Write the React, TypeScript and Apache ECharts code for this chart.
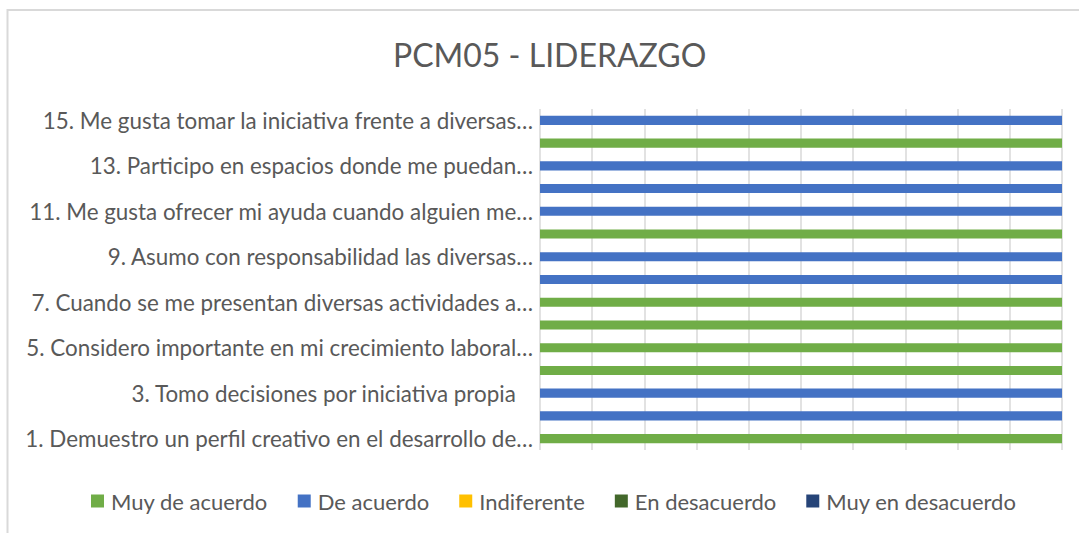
import React, { useEffect, useRef } from "react";
import * as echarts from "echarts";

const categories = [
  "1. Demuestro un perfil creativo en el desarrollo de…",
  "2. …",
  "3. Tomo decisiones por iniciativa propia   ",
  "4. …",
  "5. Considero importante en mi crecimiento laboral…",
  "6. …",
  "7. Cuando se me presentan diversas actividades a…",
  "8. …",
  "9. Asumo con responsabilidad las diversas…",
  "10. …",
  "11. Me gusta ofrecer mi ayuda cuando alguien me…",
  "12. …",
  "13. Participo en espacios donde me puedan…",
  "14. …",
  "15. Me gusta tomar la iniciativa frente a diversas…",
];

const seriesNames = ["Muy de acuerdo", "De acuerdo", "Indiferente", "En desacuerdo", "Muy en desacuerdo"];
const seriesColors = ["#70AD47", "#4472C4", "#FFC000", "#43682B", "#264478"];

const muyDeAcuerdo = [1, 0, 0, 1, 1, 1, 1, 0, 0, 1, 0, 0, 0, 1, 0];
const deAcuerdo = [0, 1, 1, 0, 0, 0, 0, 1, 1, 0, 1, 1, 1, 0, 1];
const indiferente = [0, 0, 0, 0, 0, 0, 0, 0, 0, 0, 0, 0, 0, 0, 0];
const enDesacuerdo = [0, 0, 0, 0, 0, 0, 0, 0, 0, 0, 0, 0, 0, 0, 0];
const muyEnDesacuerdo = [0, 0, 0, 0, 0, 0, 0, 0, 0, 0, 0, 0, 0, 0, 0];

const seriesData = [muyDeAcuerdo, deAcuerdo, indiferente, enDesacuerdo, muyEnDesacuerdo];

const FONT = "Lato";
const TEXT = "#595959";

export default function App() {
  const ref = useRef<HTMLDivElement>(null);
  useEffect(() => {
    if (!ref.current) return;
    const chart = echarts.init(ref.current, undefined, { renderer: "svg" });
    chart.setOption({
      animation: false,
      backgroundColor: "#ffffff",
      textStyle: { fontFamily: FONT },
      title: {
        text: "PCM05 - LIDERAZGO",
        left: 393,
        top: 38,
        padding: 0,
        textStyle: { fontFamily: FONT, fontSize: 32, fontWeight: "normal", color: TEXT },
      },
      graphic: [
        {
          type: "rect",
          shape: { x: 7.5, y: 10, width: 1200, height: 700 },
          style: { fill: "none", stroke: "#d9d9d9", lineWidth: 2 },
          silent: true,
          z: -1,
        },
      ],
      legend: {
        bottom: 16,
        left: 86,
        icon: "rect",
        itemWidth: 13,
        itemHeight: 13,
        itemGap: 30,
        textStyle: { fontFamily: FONT, fontSize: 22, color: TEXT, padding: [0, 0, 0, 2] },
        data: seriesNames,
      },
      grid: { left: 540, right: 17, top: 109, bottom: 83, containLabel: false },
      xAxis: {
        type: "value",
        min: 0,
        max: 1,
        interval: 0.1,
        axisLabel: { show: false },
        axisLine: { show: false },
        axisTick: { show: false },
        splitLine: { show: true, lineStyle: { color: "#d9d9d9", width: 1.5 } },
      },
      yAxis: {
        type: "category",
        data: categories,
        axisLine: { show: false },
        axisTick: { show: false },
        axisLabel: {
          interval: 1,
          margin: 7,
          fontFamily: FONT,
          fontSize: 22.4,
          color: TEXT,
        },
      },
      series: seriesNames.map((name, i) => ({
        name,
        type: "bar",
        stack: "total",
        barWidth: "40%",
        itemStyle: { color: seriesColors[i] },
        data: seriesData[i],
      })),
    });
    return () => chart.dispose();
  }, []);
  return (
    <div
      ref={ref}
      style={{ position: "absolute", left: 0, top: 0, width: 1079, height: 533 }}
    />
  );
}
